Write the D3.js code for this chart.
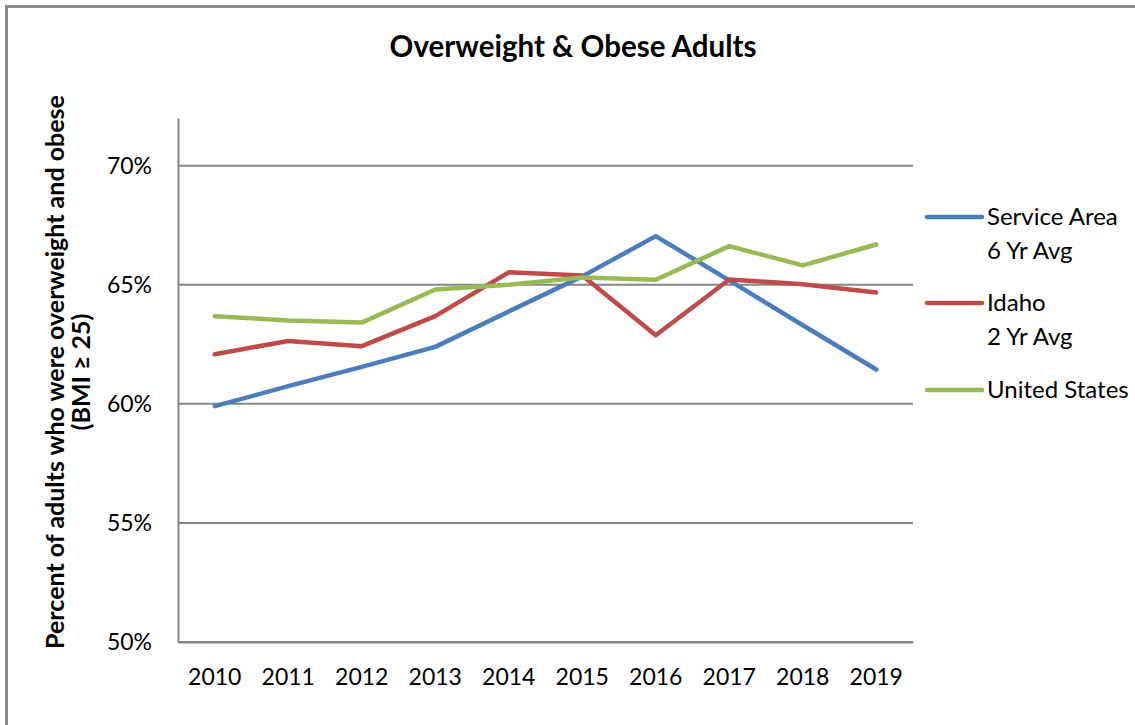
<!DOCTYPE html>
<html>
<head>
<meta charset="utf-8">
<script src="https://cdn.jsdelivr.net/npm/d3@7"></script>
<style>
  body { margin: 0; background: #fff; }
  svg { display: block; font-family: Lato, "Open Sans", sans-serif; }
</style>
</head>
<body>
<svg id="chart"></svg>
<script>
// Chart data
const years = ['2010', '2011', '2012', '2013', '2014', '2015', '2016', '2017', '2018', '2019'];
const serviceArea = [59.9, 60.74, 61.55, 62.39, 63.88, 65.35, 67.04, 65.18, 63.3, 61.44];
const idaho = [62.08, 62.64, 62.42, 63.68, 65.52, 65.39, 62.88, 65.22, 65.02, 64.67];
const unitedStates = [63.68, 63.5, 63.41, 64.8, 65.0, 65.3, 65.21, 66.62, 65.81, 66.69];
const yTicks = [50, 55, 60, 65, 70];

const series = [
  { name: ['Service Area', '6 Yr Avg'], values: serviceArea, color: '#4a7ebb' },
  { name: ['Idaho', '2 Yr Avg'], values: idaho, color: '#be4b48' },
  { name: ['United States'], values: unitedStates, color: '#98b954' }
];

const width = 1135, height = 725;
const plot = { left: 178, right: 913, top: 118, bottom: 642 };

const svg = d3.select('#chart')
  .attr('width', width)
  .attr('height', height);

// outer frame (left & top edges visible)
svg.append('rect')
  .attr('x', 6.5).attr('y', 6.5)
  .attr('width', width + 20).attr('height', height + 20)
  .attr('fill', 'none')
  .attr('stroke', '#8a8a8a')
  .attr('stroke-width', 3);

// Scales
const x = d3.scaleBand()
  .domain(years)
  .range([plot.left, plot.right]);

const y = d3.scaleLinear()
  .domain([50, 72])
  .range([plot.bottom, plot.top]);

const cx = d => x(d) + x.bandwidth() / 2;

// Gridlines
svg.append('g')
  .selectAll('line')
  .data(yTicks)
  .join('line')
  .attr('x1', plot.left).attr('x2', plot.right)
  .attr('y1', d => y(d)).attr('y2', d => y(d))
  .attr('stroke', '#868686')
  .attr('stroke-width', 2);

// Y axis
const yAxis = d3.axisLeft(y)
  .tickValues(yTicks)
  .tickSize(0)
  .tickPadding(26)
  .tickFormat(d => d + '%');

svg.append('g')
  .attr('transform', `translate(${plot.left},0)`)
  .call(yAxis)
  .call(g => g.select('.domain').attr('stroke', '#868686').attr('stroke-width', 2))
  .call(g => g.selectAll('text').attr('font-size', 23).attr('fill', '#000').attr('font-family', 'Lato'));

// X axis
const xAxis = d3.axisBottom(x).tickSize(0).tickPadding(27);

svg.append('g')
  .attr('transform', `translate(0,${plot.bottom})`)
  .call(xAxis)
  .call(g => g.select('.domain').attr('stroke', '#868686').attr('stroke-width', 2))
  .call(g => g.selectAll('text').attr('font-size', 23).attr('fill', '#000').attr('font-family', 'Lato'));

// Lines
const line = d3.line()
  .x((d, i) => cx(years[i]))
  .y(d => y(d));

svg.append('g')
  .selectAll('path')
  .data(series)
  .join('path')
  .attr('d', d => line(d.values))
  .attr('fill', 'none')
  .attr('stroke', d => d.color)
  .attr('stroke-width', 4.5)
  .attr('stroke-linejoin', 'round')
  .attr('stroke-linecap', 'round');

// Title
svg.append('text')
  .attr('x', 573)
  .attr('y', 57)
  .attr('text-anchor', 'middle')
  .attr('font-size', 29.5)
  .attr('font-weight', 'bold')
  .text('Overweight & Obese Adults');

// Y axis title
const yTitle = svg.append('text')
  .attr('transform', 'translate(64,372) rotate(-90)')
  .attr('text-anchor', 'middle')
  .attr('font-size', 25)
  .attr('font-weight', 'bold');
yTitle.append('tspan').attr('x', 0).attr('dy', 0).text('Percent of adults who were overweight and obese');
yTitle.append('tspan').attr('x', 0).attr('dy', 26).text('(BMI ≥ 25)');

// Legend
const legendY = [217, 303, 390];
const legend = svg.append('g')
  .selectAll('g')
  .data(series)
  .join('g')
  .attr('transform', (d, i) => `translate(927,${legendY[i]})`);

legend.append('line')
  .attr('x1', 0).attr('x2', 55)
  .attr('stroke', d => d.color)
  .attr('stroke-width', 4.5)
  .attr('stroke-linecap', 'round');

legend.append('text')
  .attr('font-size', 24)
  .selectAll('tspan')
  .data(d => d.name)
  .join('tspan')
  .attr('x', 60)
  .attr('y', (d, i) => 8 + i * 34)
  .text(d => d);
</script>
</body>
</html>
